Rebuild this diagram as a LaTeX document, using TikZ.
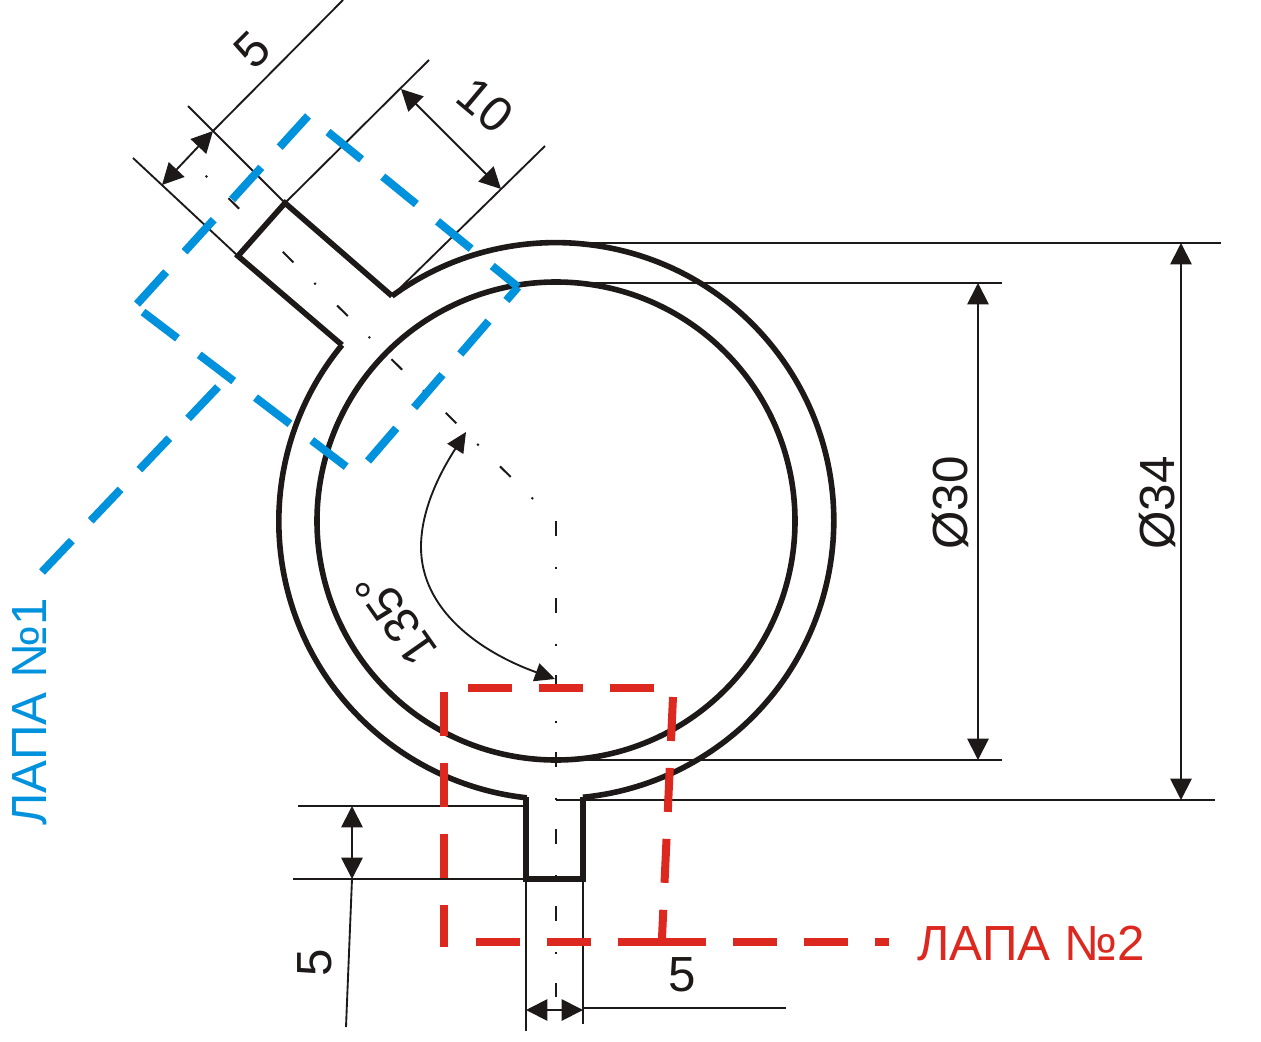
\documentclass[tikz,border=0pt]{standalone}
\usepackage{fontspec}
\setmainfont{Liberation Sans}
\usetikzlibrary{arrows.meta}
\tikzset{
  outline/.style={draw={rgb, 255:red, 30; green, 25; blue, 25 },line width=4.2pt,line join=miter},
  thinline/.style={draw={rgb, 255:red, 30; green, 25; blue, 25 },line width=1.4pt},
  dimarrow/.style={thinline,{Triangle[length=16pt,width=16pt]}-{Triangle[length=16pt,width=16pt]}},
  axisline/.style={thinline,line width=1.5pt,dash pattern={on 11.25pt off 23pt on 1.5pt off 22pt}},
  axisdiag/.style={thinline,line width=1.5pt,dash pattern={on 1.5pt off 22pt on 11.25pt off 22.5pt}},
  lapablue/.style={draw={rgb, 255:red, 0; green, 146; blue, 221 },line width=6pt,dash pattern={on 32.5pt off 20.5pt}},
  lapared/.style={draw={rgb, 255:red, 220; green, 40; blue, 30 },line width=6pt,dash pattern={on 33pt off 20.25pt}},
  dimtext/.style={inner sep=0.75pt,text={rgb, 255:red, 30; green, 25; blue, 25 },font=\fontsize{37}{37}\selectfont},
}
\begin{document}
\begin{tikzpicture}[x=0.75pt,y=0.75pt,yscale=-1,xscale=1]
\useasboundingbox (0,0) rectangle (1261,1042);

%Shape: Inner circle
\draw [outline] (556,521) circle [radius=239];
%Shape: Outer arc, right of the lugs
\draw [outline] (392,296) arc [start angle=233.9,end angle=444.4,radius=278];
%Shape: Outer arc, left of the lugs
\draw [outline] (342,345) arc [start angle=219.4,end angle=96.2,radius=278];
%Shape: Lug 1
\draw [outline] (392,296) -- (285,203) -- (238,256) -- (342,345);
%Shape: Lug 2
\draw [outline] (526,797) -- (526,879) -- (583,879) -- (583,797);

%Straight Lines: axes
\draw [axisdiag] (533,499) -- (205,175);
\draw [axisline] (556,521) -- (556,997);

%Straight Lines: extension lines of the diameters
\draw [thinline] (556,243) -- (1221,243);
\draw [thinline] (512,283) -- (1002,283);
\draw [thinline] (580,760) -- (1002,760);
\draw [thinline] (556,800) -- (1215,800);
\draw [dimarrow] (978,283) -- (978,760);
\draw [dimarrow] (1181,243) -- (1181,800);

%Straight Lines: extension lines of lug 1
\draw [thinline] (343,0) -- (213,131);
\draw [thinline] (188,106) -- (285,203);
\draw [thinline] (133,158) -- (238,256);
\draw [thinline] (429,60) -- (285,203);
\draw [thinline] (545,146) -- (392,296);
\draw [dimarrow] (213,131) -- (162,185);
\draw [dimarrow] (401,89) -- (501,189);

%Straight Lines: extension lines of lug 2
\draw [thinline] (298,806) -- (526,806);
\draw [thinline] (293,879) -- (526,879);
\draw [thinline] (352,879) -- (346,1027);
\draw [dimarrow] (352,806) -- (352,879);
\draw [thinline] (526,879) -- (526,1031);
\draw [thinline] (583,879) -- (583,1024);
\draw [thinline] (583,1008) -- (786,1008);
\draw [dimarrow] (526,1010) -- (583,1010);

%Curve Lines: angle
\draw [thinline,{Triangle[length=15pt,width=14pt]}-{Triangle[length=15pt,width=14pt]}] (466,432) .. controls (445,465) and (421,505) .. (421,547) .. controls (421,610) and (480,652) .. (555,679);

%Shape: Paw 1
\draw [lapablue] (137,304) -- (308,116);
\draw [lapablue] (328,132) -- (518,287);
\draw [lapablue] (368,461) -- (518,287);
\draw [lapablue] (143,312) -- (348,468);
\draw [lapablue] (218,387) -- (41,573);

%Shape: Paw 2
\draw [lapared] (444,692) -- (444,947);
\draw [lapared] (468,688) -- (654,688);
\draw [lapared] (673,697) -- (662,938);
\draw [lapared] (476,942) -- (662,942);
\draw [lapared] (662,942) -- (889,942);

% Text Node
\draw (950,503) node [dimtext,rotate=90] (dthirty) {Ø30};
% Text Node
\draw (1157,503) node [dimtext,rotate=90] (dthirtyfour) {Ø34};
% Text Node
\draw (252,50) node [dimtext,rotate=45] (lugwidth) {5};
% Text Node
\draw (485,105) node [dimtext,rotate=-40] (luglength) {10};
% Text Node
\draw (396,618) node [dimtext,rotate=125] (lugangle) {135°};
% Text Node
\draw (315,963) node [dimtext,rotate=90] (lugtwolength) {5};
% Text Node
\draw (682,975) node [dimtext] (lugtwowidth) {5};
% Text Node
\draw (30,712) node [dimtext,rotate=90,text={rgb, 255:red, 0; green, 146; blue, 221 }] (lapaone) {ЛАПА №1};
% Text Node
\draw (1031,943) node [dimtext,text={rgb, 255:red, 220; green, 40; blue, 30 }] (lapatwo) {ЛАПА №2};

\end{tikzpicture}
\end{document}
